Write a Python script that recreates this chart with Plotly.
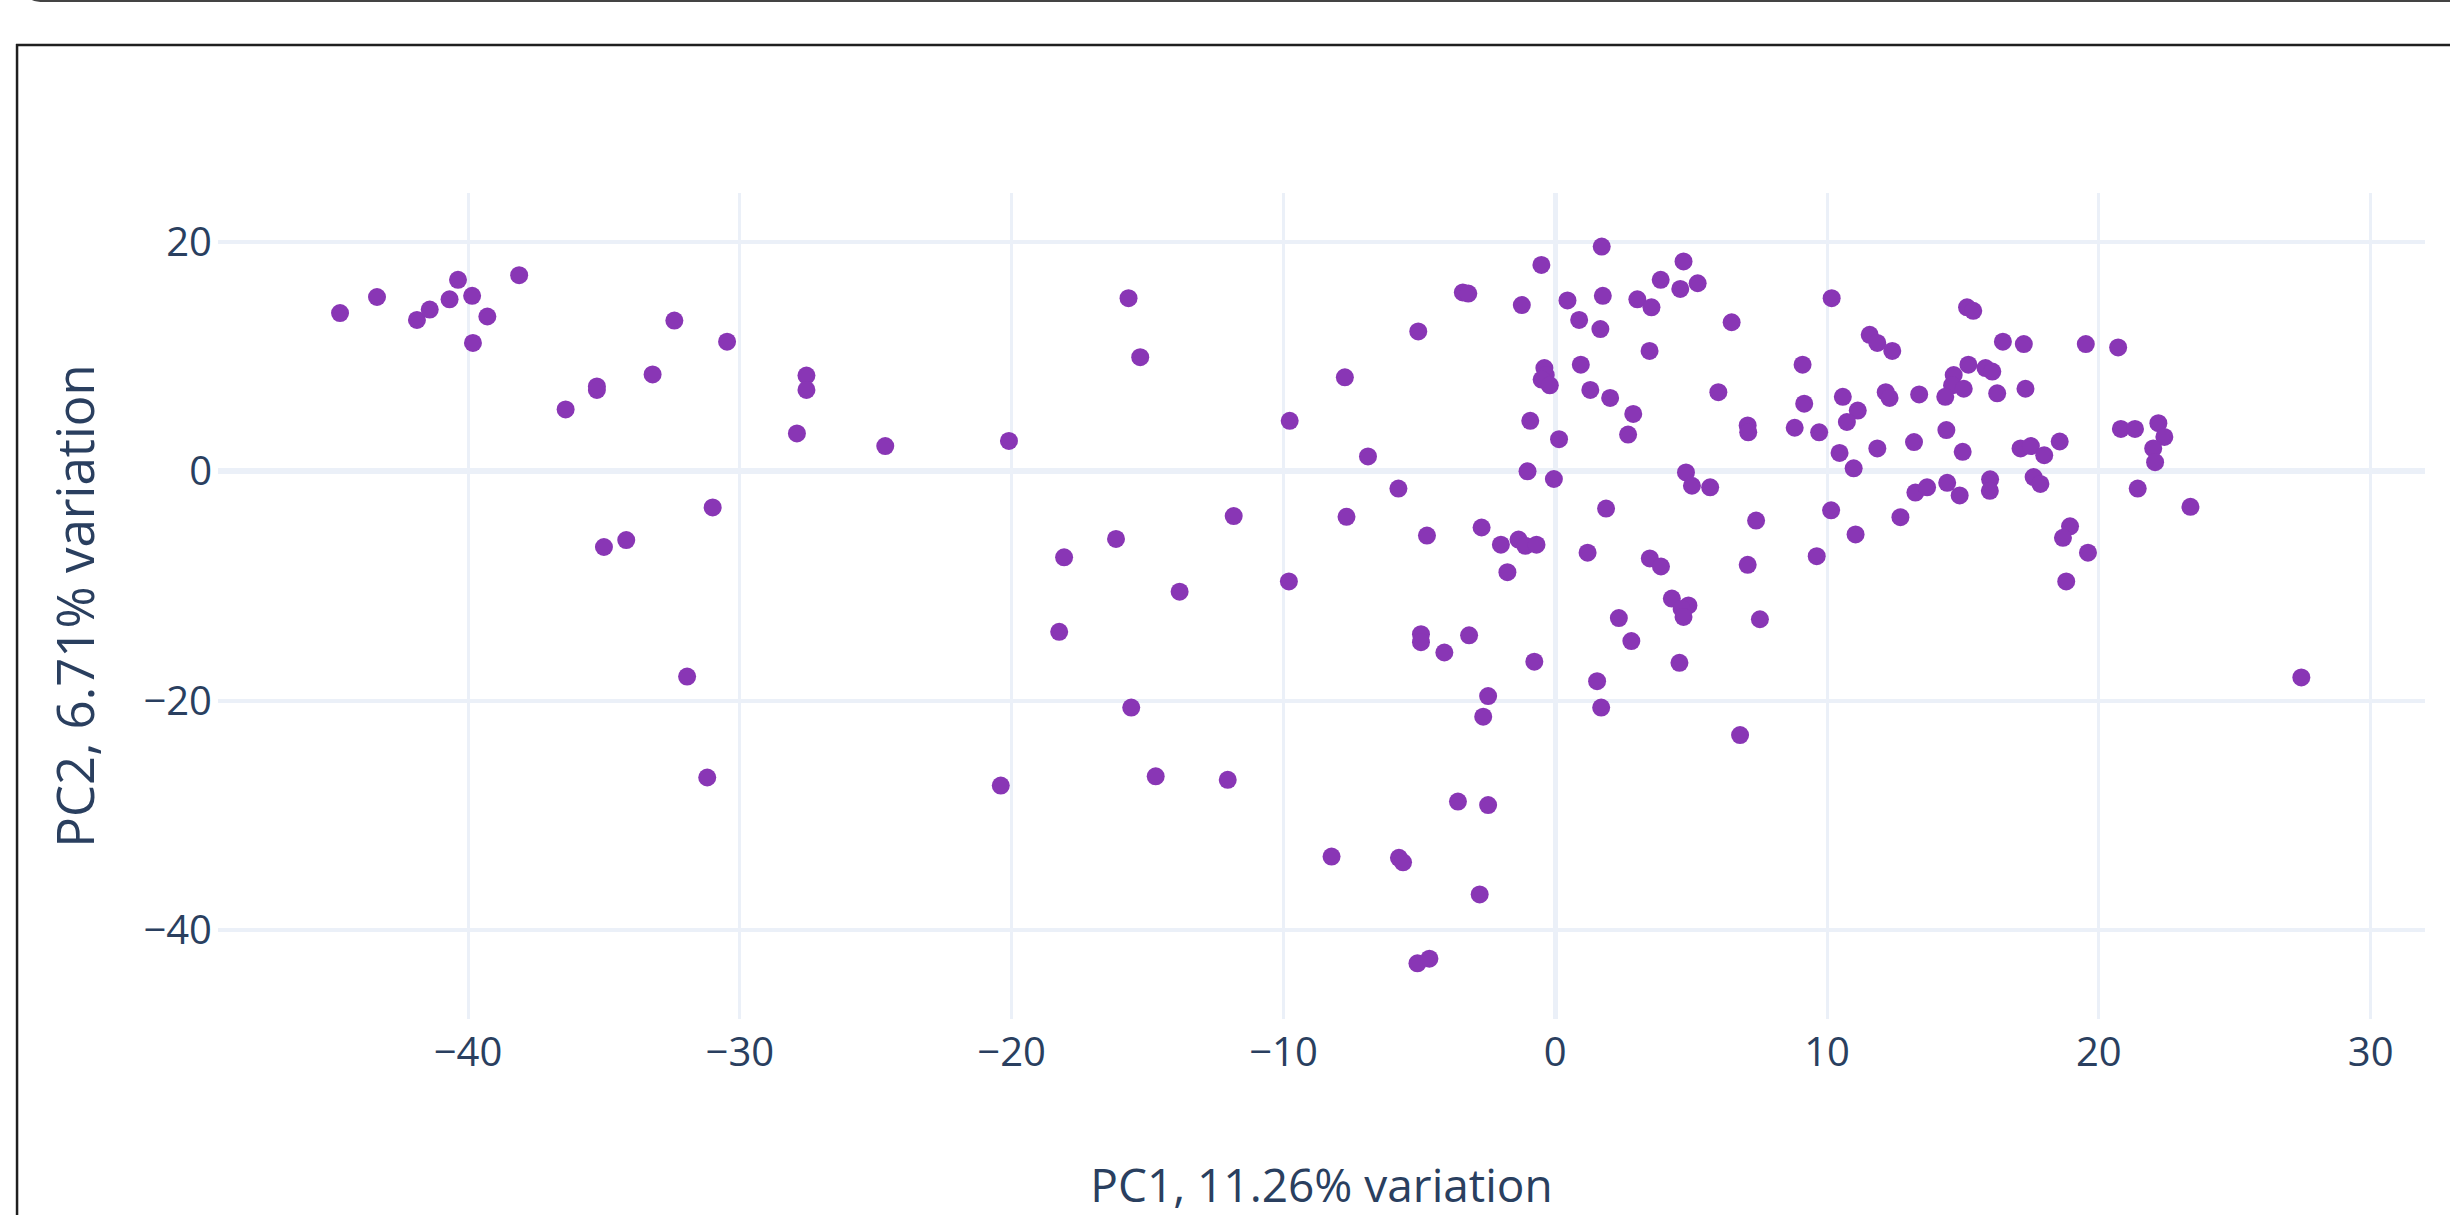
import plotly.graph_objects as go

# PCA scores
pc1 = [
    -44.71, -43.35, -41.88, -41.41, -40.68, -40.37, -39.85, -39.29, -39.82, -38.12,
    -36.41, -35.26, -35.26, -33.21, -32.41, -30.47, -27.55, -27.55, -27.90, -31.00,
    -35.00, -34.18, -31.94, -31.20,
    -24.65, -20.10, -15.70, -15.27, -7.74, -9.77, -6.89, -11.83, -7.68, -18.07,
    -16.16, -13.82, -9.80, -18.25, -15.60, -20.40, -14.70, -12.05, -8.23,
    -5.04, -3.40, -3.20, -1.23, -0.51, 1.71, 0.45, 0.88, 1.66, 1.75,
    3.02, 3.54, 3.88, 4.60, 4.72, 5.24, 6.49, 3.47, 10.17, 11.57,
    11.85, 12.40, 9.10, -0.40, -0.35, -0.50, -0.20, 0.94, 1.29, 2.02,
    2.87, 2.68, -0.92, 0.14, 6.00, 7.08, 7.10, 9.16, 8.81, 9.71,
    10.58, 11.13, 10.73, 12.16, 12.30, 10.46, 11.85, 10.98, -1.02, -0.05,
    4.81, 5.03, 5.70, -5.77, 1.87, 10.15, 7.39, 11.05, 12.70, -4.72,
    -2.71, -2.00, -1.35, -1.10, -0.69, -1.76, 1.19, 3.48, 3.89, 7.08,
    9.62, 4.29, 4.90, 4.65,
    2.34, 4.72, 7.53, 2.80, 4.57, 1.54, 1.69, 6.80, -4.94, -4.94,
    -4.08, -3.17, -0.77, -2.47, -2.65, -3.58, -2.47, -5.75, -5.60, -2.78,
    -5.07, -4.63,
    15.15, 15.38, 16.47, 17.24, 19.52, 20.71, 15.20, 15.83, 16.08, 14.66,
    14.60, 15.03, 14.35, 13.39, 16.26, 17.30, 14.39, 13.20, 14.99, 17.12,
    17.50, 17.99, 18.56, 20.81, 21.33, 22.19, 22.41, 22.00, 22.07, 13.25,
    13.68, 14.42, 14.88, 16.00, 15.99, 17.60, 17.85, 21.43, 23.37, 18.94,
    18.68, 19.60, 18.80, 27.45,
]
pc2 = [
    13.8, 15.2, 13.2, 14.1, 15.0, 16.7, 15.3, 13.5, 11.2, 17.1,
    5.4, 7.1, 7.4, 8.45, 13.15, 11.3, 8.35, 7.1, 3.3, -3.15,
    -6.6, -6.0, -17.9, -26.7,
    2.2, 2.65, 15.1, 9.95, 8.2, 4.4, 1.3, -3.9, -3.97, -7.5,
    -5.9, -10.5, -9.6, -14.0, -20.6, -27.4, -26.6, -26.9, -33.6,
    12.2, 15.6, 15.5, 14.5, 18.0, 19.6, 14.9, 13.2, 12.4, 15.3,
    15.0, 14.3, 16.7, 15.9, 18.3, 16.4, 13.0, 10.5, 15.1, 11.9,
    11.2, 10.5, 9.3, 9.0, 8.4, 8.0, 7.5, 9.3, 7.1, 6.4,
    5.0, 3.2, 4.4, 2.8, 6.9, 4.0, 3.4, 5.9, 3.8, 3.4,
    6.5, 5.3, 4.3, 6.9, 6.4, 1.6, 2.0, 0.26, 0.0, -0.67,
    -0.1, -1.26, -1.4, -1.5, -3.25, -3.4, -4.3, -5.5, -4.0, -5.6,
    -4.9, -6.4, -5.95, -6.5, -6.4, -8.8, -7.1, -7.6, -8.3, -8.15,
    -7.4, -11.1, -11.7, -12.0,
    -12.8, -12.7, -12.9, -14.8, -16.7, -18.3, -20.6, -23.0, -14.2, -14.9,
    -15.8, -14.3, -16.6, -19.6, -21.4, -28.8, -29.1, -33.7, -34.1, -36.9,
    -42.9, -42.5,
    14.3, 14.0, 11.3, 11.1, 11.1, 10.8, 9.3, 9.0, 8.7, 8.4,
    7.5, 7.2, 6.5, 6.7, 6.8, 7.2, 3.6, 2.55, 1.7, 2.0,
    2.2, 1.4, 2.6, 3.7, 3.7, 4.2, 3.0, 2.0, 0.8, -1.85,
    -1.4, -1.0, -2.1, -0.7, -1.7, -0.5, -1.1, -1.5, -3.1, -4.8,
    -5.8, -7.1, -9.6, -17.97,
]

x_title = "PC1, 11.26% variation"
y_title = "PC2, 6.71% variation"
x_ticks = [-40, -30, -20, -10, 0, 10, 20, 30]
y_ticks = [-40, -20, 0, 20]

W, H = 2450, 1215
ML, MR, MT, MB = 218, 24.5, 193, 196
PW = W - ML - MR
PH = H - MT - MB


def px(X):
    return (X - ML) / PW


def py(Y):
    return (H - MB - Y) / PH


font_color = "#2a3f5f"
grid = "#EBF0F8"

fig = go.Figure(
    go.Scatter(
        x=pc1,
        y=pc2,
        mode="markers",
        marker=dict(color="#8936B5", size=18, line=dict(width=0)),
        showlegend=False,
    )
)

fig.update_layout(
    width=W,
    height=H,
    margin=dict(l=ML, r=MR, t=MT, b=MB, pad=0),
    paper_bgcolor="white",
    plot_bgcolor="white",
    font=dict(family="Open Sans, verdana, arial, sans-serif", color=font_color, size=40),
    xaxis=dict(
        range=[-49.2, 32.0],
        tickvals=x_ticks,
        showgrid=True,
        gridcolor=grid,
        gridwidth=3,
        zeroline=True,
        zerolinecolor=grid,
        zerolinewidth=5,
        showline=False,
        ticks="",
        ticklabelstandoff=6,
        tickfont=dict(size=40),
        title=dict(text=x_title, font=dict(size=46), standoff=96),
        automargin=False,
    ),
    yaxis=dict(
        range=[-47.76, 24.27],
        tickvals=y_ticks,
        showgrid=True,
        gridcolor=grid,
        gridwidth=4,
        zeroline=True,
        zerolinecolor=grid,
        zerolinewidth=6,
        showline=False,
        ticks="",
        ticklabelstandoff=5,
        tickfont=dict(size=40),
        title=dict(text=y_title, font=dict(size=51), standoff=32),
        automargin=False,
    ),
    shapes=[
        # outer frame (top and left edges; the rest runs off the picture)
        dict(type="line", xref="paper", yref="paper",
             x0=px(16), y0=py(45), x1=px(2470), y1=py(45),
             line=dict(color="#1f1f1f", width=2.5)),
        dict(type="line", xref="paper", yref="paper",
             x0=px(17), y0=py(44), x1=px(17), y1=py(1240),
             line=dict(color="#1f1f1f", width=2.5)),
        # bottom border of the element above, with rounded corner
        dict(type="path", xref="paper", yref="paper",
             path=(f"M {px(26)},{py(-8)} Q {px(28)},{py(1)} {px(44)},{py(1)} "
                   f"L {px(2470)},{py(1)}"),
             line=dict(color="#444444", width=2)),
    ],
)

fig.write_html(
    "out.html",
    config={"displayModeBar": False},
    post_script="document.body.style.margin='0';document.body.style.overflow='hidden';",
)
